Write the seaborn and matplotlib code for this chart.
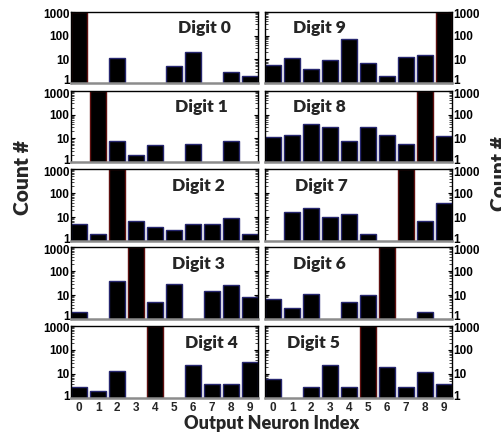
import numpy as np
import pandas as pd
import matplotlib
matplotlib.use('Agg')
import matplotlib.pyplot as plt
import matplotlib.transforms as mtransforms
import seaborn as sns

# counts per output neuron (0..9) for each presented digit; 0 = no bar
neurons = list(range(10))
left_digits = [0, 1, 2, 3, 4]
right_digits = [9, 8, 7, 6, 5]
counts = {
    0: [1000, 0, 11, 0, 0, 5, 21, 0, 3, 2],
    1: [0, 1000, 8, 2, 5, 0, 6, 0, 8, 0],
    2: [5, 2, 1000, 7, 4, 3, 5, 5, 9, 2],
    3: [2, 0, 37, 1000, 5, 30, 0, 15, 25, 8],
    4: [3, 2, 13, 0, 1000, 0, 23, 4, 4, 33],
    5: [6, 0, 3, 23, 3, 1000, 19, 3, 12, 4],
    6: [7, 3, 11, 0, 5, 10, 1000, 0, 2, 0],
    7: [0, 16, 23, 10, 13, 2, 0, 1000, 7, 40],
    8: [11, 14, 40, 30, 8, 30, 14, 6, 1000, 13],
    9: [6, 11, 4, 9, 70, 7, 2, 13, 15, 1000],
}
label_x = {0: 0.57, 1: 0.555, 2: 0.54, 3: 0.54, 4: 0.61,
           9: 0.15, 8: 0.15, 7: 0.16, 6: 0.15, 5: 0.12}

rows = []
for d, vals in counts.items():
    for n, c in zip(neurons, vals):
        rows.append({'digit': d, 'neuron': n, 'count': c})
df = pd.DataFrame(rows)

sns.set_style('ticks')
plt.rcParams['font.family'] = ['Lato', 'DejaVu Sans']

W, H = 502, 433
fig = plt.figure(figsize=(W / 100, H / 100), dpi=100)

row_px = [(12, 83), (91, 162), (169, 241), (247, 319), (326, 398)]
col_px = [71, 265]
ax_w = 187

tick_font = {'family': 'Liberation Sans', 'weight': 'bold', 'size': 8.5}

for ci, digits in enumerate([left_digits, right_digits]):
    for ri, d in enumerate(digits):
        top, bot = row_px[ri]
        ax = fig.add_axes([col_px[ci] / W, 1 - bot / H, ax_w / W, (bot - top) / H])
        sub = df[df['digit'] == d]
        sns.barplot(data=sub, x='neuron', y='count', order=neurons, ax=ax,
                    color='black', saturation=1, width=0.86,
                    edgecolor='#26266e', linewidth=1, errorbar=None)
        for i, p in enumerate(ax.patches):
            p.set_facecolor('black')
            if i == d:
                p.set_edgecolor('#5e1010')
        ax.set_yscale('log')
        ax.set_ylim(1, 1000)
        ax.set_xlim(-0.43, 9.43)
        ax.set_yticks([1, 10, 100, 1000])
        ax.set_yticklabels(['1', '10', '100', '1000'], fontdict=tick_font)
        ax.set_xlabel('')
        ax.set_ylabel('')
        for s in ['left', 'right', 'top']:
            ax.spines[s].set_visible(True)
            ax.spines[s].set_color('black')
            ax.spines[s].set_linewidth(1)
        ax.spines['bottom'].set_color('#8c8c8c')
        ax.spines['bottom'].set_linewidth(1.8)
        ax.tick_params(axis='y', which='both', left=True, right=True,
                       direction='in', pad=1, colors='black')
        ax.tick_params(axis='y', which='major', length=3, width=0.8)
        ax.tick_params(axis='y', which='minor', length=2, width=0.5)
        if ci == 0:
            ax.tick_params(axis='y', labelleft=True, labelright=False)
            labels = ax.get_yticklabels()
        else:
            ax.tick_params(axis='y', labelleft=False, labelright=True)
            labels = ax.yaxis.get_ticklabels(which='major')
            labels = [t.label2 for t in ax.yaxis.get_major_ticks()]
        # keep the end labels inside their own panel
        shift_up = mtransforms.ScaledTranslation(0, 3 / 100, fig.dpi_scale_trans)
        shift_dn = mtransforms.ScaledTranslation(0, -2 / 100, fig.dpi_scale_trans)
        for t in ax.yaxis.get_major_ticks():
            lab = t.label2 if ci == 1 else t.label1
            if lab.get_text() == '1':
                lab.set_transform(lab.get_transform() + shift_up)
            elif lab.get_text() == '1000':
                lab.set_transform(lab.get_transform() + shift_dn)
        if ri == len(digits) - 1:
            ax.set_xticks(neurons)
            ax.set_xticklabels([str(n) for n in neurons], fontdict=tick_font)
            ax.tick_params(axis='x', length=0, pad=3)
        else:
            ax.set_xticks([])
        ax.text(label_x[d], 0.77, f'Digit {d}', transform=ax.transAxes,
                fontsize=12.5, fontweight='heavy', ha='left', va='center')

fig.text(23 / W, 1 - 178 / H, 'Count #', rotation=90, fontsize=15,
         fontweight='heavy', ha='center', va='center')
fig.text(500 / W, 1 - 174 / H, 'Count #', rotation=90, fontsize=15,
         fontweight='heavy', ha='center', va='center')
fig.text(272 / W, 1 - 423 / H, 'Output Neuron Index', fontsize=13,
         fontweight='heavy', ha='center', va='center')

fig.savefig('out.png', dpi=100)
